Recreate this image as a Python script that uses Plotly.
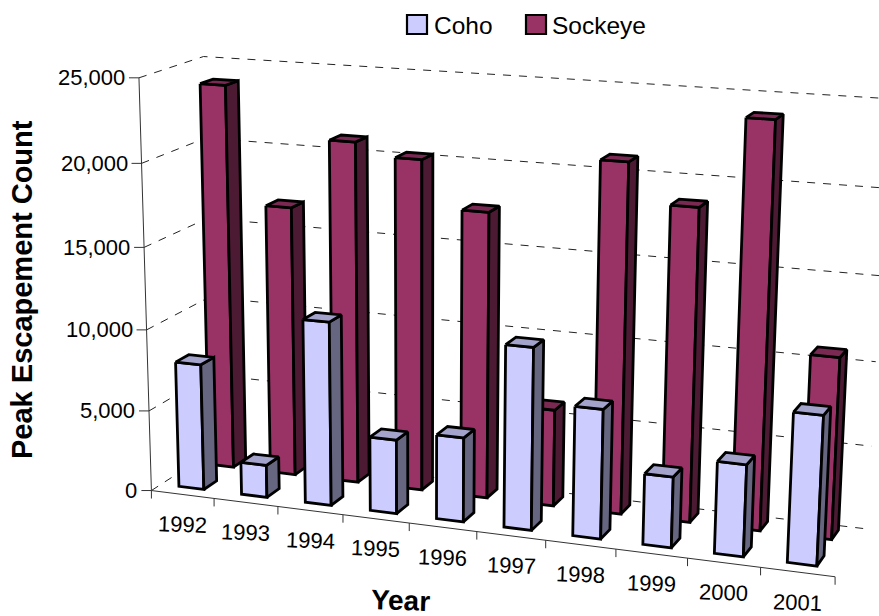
import numpy as np
import plotly.graph_objects as go

# Chart data
years = ["1992", "1993", "1994", "1995", "1996", "1997", "1998", "1999", "2000", "2001"]
coho = [7800, 2000, 11200, 4500, 5100, 10900, 7700, 4200, 5400, 8700]
sockeye = [23800, 16700, 20950, 20200, 17400, 5900, 20950, 18650, 23900, 10750]
value_ticks = [0, 5000, 10000, 15000, 20000, 25000]
VMAX = 25000.0
N = len(years)

# Perspective frame: (category position, value, depth) anchors and their page positions,
# each with a weight in the least-squares fit.
frame_world = [(0, 0, 0), (0, VMAX, 0), (0, 0, 1), (0, VMAX, 1), (10, 0, 0),
               (10, 0, 1), (10, VMAX, 1), (5, 0, 0), (1, 0, 0), (9, 0, 0)]
frame_page = [(153, 490), (137, 78), (205, 453), (204, 56.5), (835, 577),
              (868, 527.5), (888, 98.5), (477, 532), (215, 498), (761, 568)]
frame_weight = [2, 2, 1, 4, 2, 1, 1, 1, 1, 1]


def fit_camera(world, page, weight):
    rows, rhs = [], []
    for (u, v, w), (x, y), k in zip(world, page, weight):
        X = [u / 10, v / VMAX, w, 1]
        rows.append([k * c for c in X + [0, 0, 0, 0] + [-x * c for c in X[:3]]])
        rhs.append(k * x)
        rows.append([k * c for c in [0, 0, 0, 0] + X + [-y * c for c in X[:3]]])
        rhs.append(k * y)
    sol = np.linalg.lstsq(np.array(rows, float), np.array(rhs, float), rcond=None)[0]
    return np.append(sol, 1).reshape(3, 4)


CAM = fit_camera(frame_world, frame_page, frame_weight)


def project(u, v, w):
    h = CAM @ np.array([u / 10, v / VMAX, w, 1.0])
    return h[0] / h[2], h[1] / h[2]


def poly(points):
    xy = [project(*p) for p in points]
    return [p[0] for p in xy], [p[1] for p in xy]


fig = go.Figure()

# Wall gridlines, dashed, running along the side wall and then the back wall
for t in value_ticks:
    xs, ys = poly([(0, t, 0), (0, t, 1), (10, t, 1)])
    fig.add_trace(go.Scatter(x=xs, y=ys, mode="lines", showlegend=False, hoverinfo="skip",
                             line=dict(color="#222222", width=1, dash="8px,8px")))

# Value axis and category axis with their tick marks
xs, ys = poly([(0, VMAX, 0), (0, 0, 0), (10, 0, 0)])
fig.add_trace(go.Scatter(x=xs, y=ys, mode="lines", showlegend=False, hoverinfo="skip",
                         line=dict(color="#333333", width=1)))
for t in value_ticks:
    x0, y0 = project(0, t, 0)
    fig.add_trace(go.Scatter(x=[x0 - 10, x0], y=[y0, y0], mode="lines", showlegend=False,
                             hoverinfo="skip", line=dict(color="#333333", width=1)))
for i in range(N + 1):
    x0, y0 = project(i, 0, 0)
    fig.add_trace(go.Scatter(x=[x0, x0], y=[y0, y0 + 8], mode="lines", showlegend=False,
                             hoverinfo="skip", line=dict(color="#333333", width=1)))


def add_bar(u0, u1, value, d0, d1, front, side, top):
    faces = [
        ([(u0, value, d0), (u1, value, d0), (u1, 0, d0), (u0, 0, d0), (u0, value, d0)], front),
        ([(u1, value, d0), (u1, value, d1), (u1, 0, d1), (u1, 0, d0), (u1, value, d0)], side),
        ([(u0, value, d0), (u0, value, d1), (u1, value, d1), (u1, value, d0), (u0, value, d0)], top),
    ]
    for pts, colour in faces:
        xs, ys = poly(pts)
        fig.add_trace(go.Scatter(x=xs, y=ys, mode="lines", fill="toself", fillcolor=colour,
                                 showlegend=False, hoverinfo="skip",
                                 line=dict(color="#000000", width=2.8)))


# Back row first so the front row overlaps it
for i, val in enumerate(sockeye):
    add_bar(i + 0.235, i + 0.635, val, 0.70, 0.91, "#993366", "#4d1a33", "#7a2952")
for i, val in enumerate(coho):
    add_bar(i + 0.285, i + 0.685, val, 0.155, 0.365, "#ccccff", "#666680", "#a3a3cc")

notes = []
for t in value_ticks:
    x0, y0 = project(0, t, 0)
    notes.append(dict(x=x0 - 12, y=y0, text=f"{t:,}", xanchor="right", yanchor="middle",
                      showarrow=False, font=dict(size=22)))
for i, label in enumerate(years):
    x0, y0 = project(i + 0.5, 0, 0)
    notes.append(dict(x=x0, y=y0 + 30, text=label, xanchor="center", yanchor="middle",
                      textangle=2, showarrow=False, font=dict(size=22)))
notes.append(dict(x=22, y=290, text="<b>Peak Escapement Count</b>", textangle=-90, xanchor="center",
                  yanchor="middle", showarrow=False, font=dict(size=29)))
notes.append(dict(x=400, y=600.5, text="<b>Year</b>", xanchor="center", yanchor="middle",
                  textangle=2, showarrow=False, font=dict(size=28)))

# Legend keys and labels across the top
legend_shapes = []
for name, colour, x_key, x_text in (("Coho", "#ccccff", 407, 431.5), ("Sockeye", "#993366", 526, 550)):
    legend_shapes.append(dict(type="rect", xref="x", yref="y", x0=x_key, x1=x_key + 20, y0=15, y1=34,
                              fillcolor=colour, line=dict(color="#000000", width=2.2)))
    notes.append(dict(x=x_text, y=25, text=name, xanchor="left", yanchor="middle",
                      showarrow=False, font=dict(size=24.5)))

fig.update_layout(
    width=879, height=616, margin=dict(l=0, r=0, t=0, b=0),
    paper_bgcolor="white", plot_bgcolor="white",
    font=dict(family="Liberation Sans, Arial, sans-serif", color="#000000"),
    xaxis=dict(range=[0, 879], visible=False, fixedrange=True),
    yaxis=dict(range=[616, 0], visible=False, fixedrange=True),
    annotations=notes,
    shapes=legend_shapes,
    showlegend=False,
)
fig.write_html("out.html")
